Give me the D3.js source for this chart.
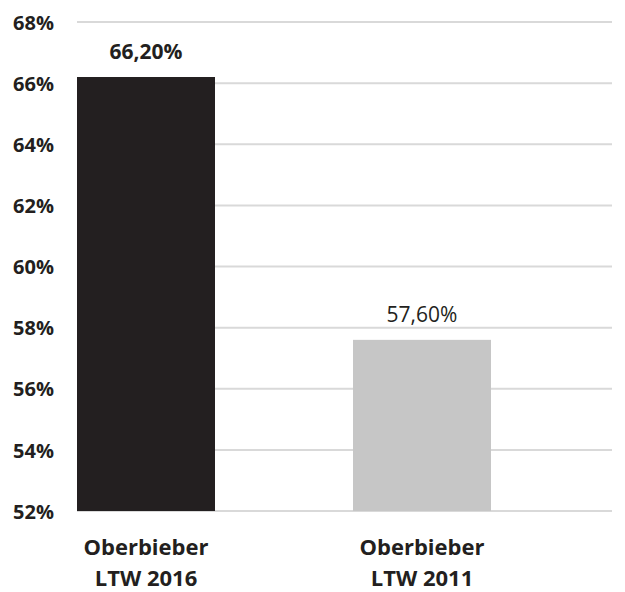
<!DOCTYPE html>
<html><head><meta charset="utf-8">
<script src="https://cdn.jsdelivr.net/npm/d3@7"></script>
<style>body{margin:0;background:#fff}</style>
</head><body>
<svg id="c" width="625" height="592"></svg>
<script>
const categories = [["Oberbieber","LTW 2016"],["Oberbieber","LTW 2011"]];
const values = [66.2, 57.6];
const valueLabels = ["66,20%","57,60%"];
const tickValues = [52,54,56,58,60,62,64,66,68];
const barColors = ["#231f20","#c6c6c6"];

const svg = d3.select("#c");
const font = "'Open Sans', sans-serif";
const y = d3.scaleLinear().domain([52,68]).range([511,22]);
const x = d3.scaleBand().domain(d3.range(values.length)).range([77,491]).paddingInner(0.5).paddingOuter(0);

const yAxis = d3.axisLeft(y).tickValues(tickValues).tickSize(0).tickFormat(d=>d+"%");
svg.append("g").selectAll("line").data(tickValues).join("line")
  .attr("x1",77).attr("x2",612).attr("y1",d=>y(d)).attr("y2",d=>y(d))
  .attr("stroke","#d9d9d9").attr("stroke-width",2);

svg.selectAll("rect.bar").data(values).join("rect")
  .attr("x",(d,i)=>x(i)).attr("width",x.bandwidth())
  .attr("y",d=>y(d)).attr("height",d=>y(52)-y(d))
  .attr("fill",(d,i)=>barColors[i]);

const ax = svg.append("g").attr("transform","translate(54,0)").call(yAxis);
ax.select(".domain").remove();
ax.selectAll("text").attr("font-family",font).attr("font-weight","bold").attr("font-size",20).attr("fill","#231f20").attr("x",0).attr("dy","0.36em");

svg.selectAll("text.val").data(values).join("text")
  .attr("x",(d,i)=>x(i)+x.bandwidth()/2).attr("y",d=>y(d)-18)
  .attr("text-anchor","middle").attr("font-family",font)
  .attr("font-weight",(d,i)=>i===0?"bold":"normal").attr("font-size",21)
  .attr("fill","#231f20").text((d,i)=>valueLabels[i]);

const cl = svg.selectAll("text.cat").data(categories).join("text")
  .attr("text-anchor","middle").attr("font-family",font).attr("font-weight","bold")
  .attr("font-size",22).attr("fill","#231f20");
cl.each(function(d,i){
  const t=d3.select(this);
  d.forEach((line,j)=>t.append("tspan").attr("x",x(i)+x.bandwidth()/2).attr("y",555+j*31).text(line));
});
</script>
</body></html>
